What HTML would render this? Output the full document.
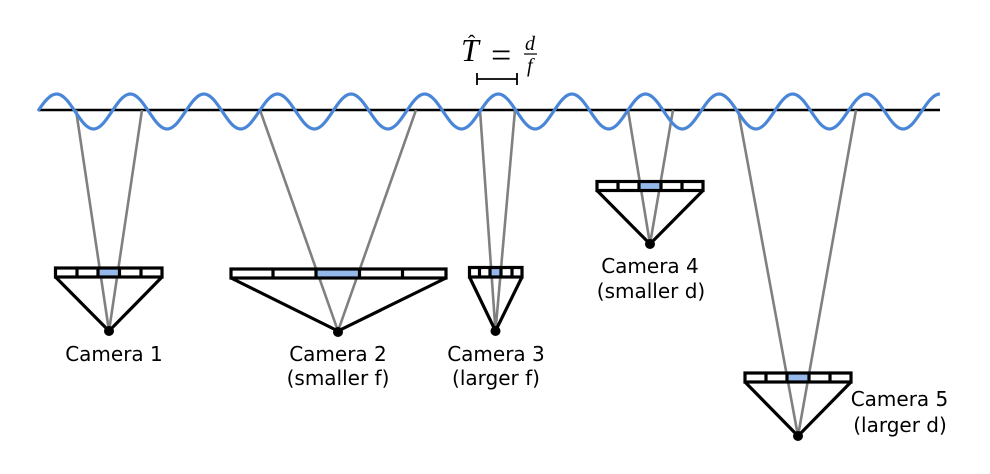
<!DOCTYPE html>
<html><head><meta charset="utf-8"><style>
html,body{margin:0;padding:0;background:#fff;width:990px;height:474px;overflow:hidden}
svg{display:block}
.l{font-family:"DejaVu Sans",sans-serif;font-size:20px;fill:#000;text-anchor:middle}
.m{font-family:"Liberation Serif",serif;fill:#000}
</style></head><body>
<svg width="990" height="474" viewBox="0 0 990 474" xmlns="http://www.w3.org/2000/svg">
<line x1="38" y1="110" x2="940" y2="110" stroke="#000" stroke-width="2.4"/>
<g stroke="#808080" stroke-width="2.6" fill="none">
<path d="M76 110L109 331L142 110"/>
<path d="M260 110L338 331L416 110"/>
<path d="M480 110L495.500 331L515 110"/>
<path d="M628 110L650 244L673 110"/>
<path d="M738 110L798 436L856 110"/>
</g>
<path fill="none" stroke="#4a86d8" stroke-width="3.200" d="M38 111 C44 102 50 94 56.700 94
c13.400 0 23.400 35 36.800 35 c13.400 0 23.400 -35 36.800 -35
c13.400 0 23.400 35 36.800 35 c13.400 0 23.400 -35 36.800 -35
c13.400 0 23.400 35 36.800 35 c13.400 0 23.400 -35 36.800 -35
c13.400 0 23.400 35 36.800 35 c13.400 0 23.400 -35 36.800 -35
c13.400 0 23.400 35 36.800 35 c13.400 0 23.400 -35 36.800 -35
c13.400 0 23.400 35 36.800 35 c13.400 0 23.400 -35 36.800 -35
c13.400 0 23.400 35 36.800 35 c13.400 0 23.400 -35 36.800 -35
c13.400 0 23.400 35 36.800 35 c13.400 0 23.400 -35 36.800 -35
c13.400 0 23.400 35 36.800 35 c13.400 0 23.400 -35 36.800 -35
c13.400 0 23.400 35 36.800 35 c13.400 0 23.400 -35 36.800 -35
c13.400 0 23.400 35 36.800 35 c13.400 0 23.400 -35 36.800 -35
c13.400 0 23.400 35 36.800 35 c13.400 0 23.400 -35 36.800 -35"/>
<g fill="none" stroke="#000" stroke-width="3.200" stroke-linejoin="miter">
<rect x="98" y="268" width="21.500" height="8" fill="#94b8ea" stroke="none"/>
<rect x="55.500" y="268" width="106.500" height="9"/>
<path d="M77 268V277M98 268V277M119.500 268V277M141 268V277M55.500 277L109 331L162 277"/>
<rect x="316" y="269" width="43.500" height="8" fill="#94b8ea" stroke="none"/>
<rect x="231" y="269" width="215" height="9"/>
<path d="M273 269V278M316 269V278M359.500 269V278M402.500 269V278M231 278L338 331L446 278"/>
<rect x="490" y="268" width="11" height="8" fill="#94b8ea" stroke="none"/>
<rect x="469.500" y="267.500" width="52.500" height="9.500"/>
<path d="M479.500 267.500V277M490 267.500V277M501 267.500V277M512 267.500V277M469.500 277L495.500 331L522 277"/>
<rect x="639" y="182" width="22" height="8" fill="#94b8ea" stroke="none"/>
<rect x="597" y="181.500" width="106" height="9"/>
<path d="M618 181.500V190.500M639 181.500V190.500M661 181.500V190.500M682 181.500V190.500M597 190.500L650 244L703 190.500"/>
<rect x="787" y="373" width="22" height="8" fill="#94b8ea" stroke="none"/>
<rect x="745" y="373" width="106" height="9"/>
<path d="M766 373V382M787 373V382M809 373V382M830 373V382M745 382L798 436L851 382"/>
</g>
<g fill="#000">
<circle cx="109" cy="331" r="5"/><circle cx="338" cy="332" r="5"/><circle cx="495.500" cy="331" r="5"/><circle cx="650" cy="244" r="5"/><circle cx="798" cy="436" r="5"/>
</g>
<path d="M477 73V85M477 79H517M517 73V85" stroke="#000" stroke-width="1.800" fill="none"/>
<text class="m" x="461" y="61" font-size="32" font-style="italic">T</text>
<text class="m" x="468" y="50" font-size="22">ˆ</text>
<text class="m" x="491" y="67" font-size="36" fill="#222">=</text>
<text class="m" x="525" y="50" font-size="20" font-style="italic">d</text>
<line x1="524" y1="54" x2="537" y2="54" stroke="#000" stroke-width="1.200"/>
<text class="m" x="527" y="72" font-size="20" font-style="italic">f</text>
<text class="l" x="114" y="361">Camera 1</text>
<text class="l" x="338" y="361">Camera 2</text>
<text class="l" x="338" y="385">(smaller f)</text>
<text class="l" x="496" y="361">Camera 3</text>
<text class="l" x="496" y="385">(larger f)</text>
<text class="l" x="650" y="273">Camera 4</text>
<text class="l" x="651" y="298">(smaller d)</text>
<text class="l" x="899.500" y="406">Camera 5</text>
<text class="l" x="900" y="432">(larger d)</text>
</svg>
</body></html>
